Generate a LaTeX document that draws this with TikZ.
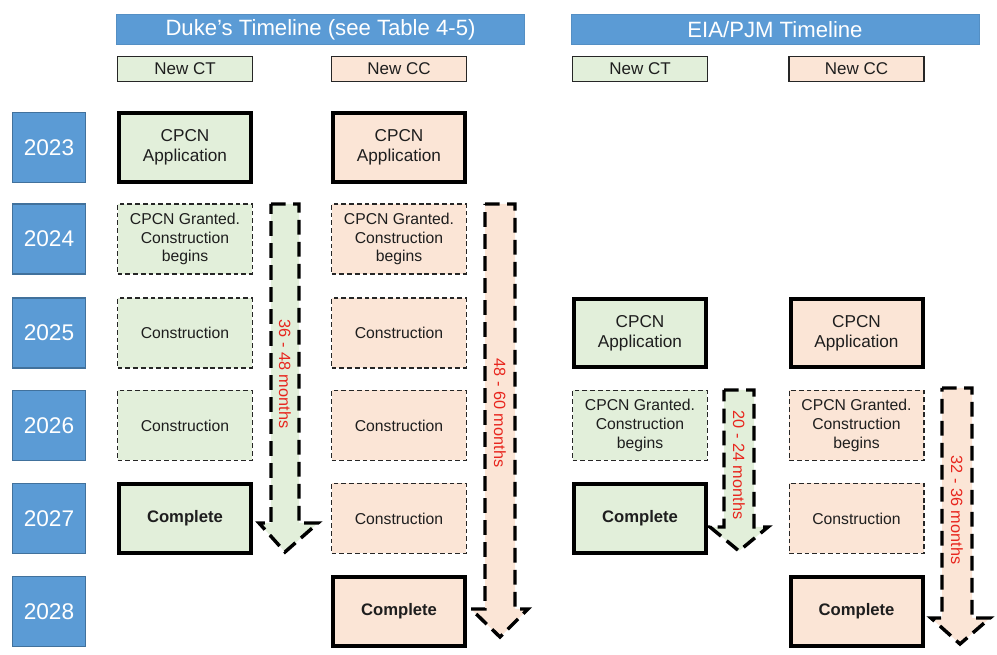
\documentclass[tikz,border=0pt]{standalone}
\usepackage{fontspec}
\setmainfont{Liberation Sans}
\definecolor{hdrblue}{HTML}{5B9BD5}
\definecolor{yearborder}{HTML}{41719C}
\definecolor{ctgreen}{HTML}{E2EFDA}
\definecolor{ccpeach}{HTML}{FBE5D6}
\definecolor{monthred}{HTML}{E8261E}
\definecolor{inktext}{HTML}{1E1E1E}
\begin{document}
\begin{tikzpicture}[x=0.75pt,y=-0.75pt,
  hdr/.style={draw=hdrblue!92!black, line width=0.75pt, fill=hdrblue, text=white,
    font=\fontsize{16.6}{18}\selectfont, minimum width=306pt, minimum height=22.5pt, inner sep=0pt},
  subhdr/.style={draw=black!85, line width=1.1pt, minimum width=101pt, minimum height=19pt,
    inner sep=0pt, text=inktext, font=\fontsize{12.75}{15}\selectfont},
  yearbox/.style={draw=yearborder, line width=0.9pt, fill=hdrblue, text=white,
    minimum width=55pt, minimum height=52.5pt, inner sep=0pt, font=\fontsize{17}{20}\selectfont},
  solidbox/.style={draw=black, line width=3pt, minimum width=99pt, minimum height=51.5pt,
    inner sep=0pt, align=center, text=inktext, font=\fontsize{12.9}{15}\selectfont},
  donebox/.style={solidbox, font=\fontsize{12.5}{15}\bfseries},
  dashbox/.style={draw=black!85, line width=1pt, dash pattern=on 3.6pt off 2.2pt,
    minimum width=101pt, minimum height=52.5pt, inner sep=0pt, align=center, text=inktext,
    font=\fontsize{11.8}{14.2}\selectfont},
  ctf/.style={fill=ctgreen}, ccf/.style={fill=ccpeach},
  arrowshape/.style={draw=black, line width=2.6pt, dash pattern=on 11pt off 5.5pt, line join=miter},
  months/.style={text=monthred, rotate=-90, inner sep=0pt, font=\fontsize{12.2}{14}\selectfont}]
\useasboundingbox (0,0) rectangle (997,655);
\def\rA{147.5}\def\rB{239}\def\rC{333}\def\rD{425.5}\def\rE{518.5}\def\rF{611.5}
% headers
\node[hdr] (hduke) at (320.5,29.5) {Duke’s Timeline (see Table 4-5)};
\node[hdr] (heia) at (775,29.5) {EIA/PJM Timeline};
\node[subhdr,ctf] (dct) at (185,69) {New CT};
\node[subhdr,ccf] (dcc) at (399,69) {New CC};
\node[subhdr,ctf] (ect) at (640,69) {New CT};
\node[subhdr,ccf] (ecc) at (856.5,69) {New CC};
% years
\node[yearbox] (y23) at (49,\rA) {2023};
\node[yearbox] (y24) at (49,\rB) {2024};
\node[yearbox] (y25) at (49,\rC) {2025};
\node[yearbox] (y26) at (49,\rD) {2026};
\node[yearbox] (y27) at (49,\rE) {2027};
\node[yearbox] (y28) at (49,\rF) {2028};
% arrows
\draw[arrowshape,fill=ctgreen] (271,204) -- (299,204) -- (299,523) -- (318,523) -- (285,552) -- (259,523) -- (271,523) -- cycle;
\draw[arrowshape,fill=ccpeach] (485,204) -- (515,204) -- (515,609) -- (528,609) -- (500,637) -- (471,609) -- (485,609) -- cycle;
\draw[arrowshape,fill=ctgreen] (724,390) -- (754,390) -- (754,527) -- (768,527) -- (739,551) -- (710,527) -- (724,527) -- cycle;
\draw[arrowshape,fill=ccpeach] (942,388) -- (972,388) -- (972,618) -- (990,618) -- (960,644) -- (931,618) -- (942,618) -- cycle;
\node[months] (m1) at (285,374) {36 - 48 months};
\node[months] (m2) at (500,413) {48 - 60 months};
\node[months] (m3) at (739,465) {20 - 24 months};
\node[months] (m4) at (957,510) {32 - 36 months};
% Duke CT
\node[solidbox,ctf] (dct1) at (185,\rA) {CPCN\\Application};
\node[dashbox,ctf] (dct2) at (185,\rB) {CPCN Granted.\\Construction\\begins};
\node[dashbox,ctf] (dct3) at (185,\rC) {Construction};
\node[dashbox,ctf] (dct4) at (185,\rD) {Construction};
\node[donebox,ctf] (dct5) at (185,\rE) {Complete};
% Duke CC
\node[solidbox,ccf] (dcc1) at (399,\rA) {CPCN\\Application};
\node[dashbox,ccf] (dcc2) at (399,\rB) {CPCN Granted.\\Construction\\begins};
\node[dashbox,ccf] (dcc3) at (399,\rC) {Construction};
\node[dashbox,ccf] (dcc4) at (399,\rD) {Construction};
\node[dashbox,ccf] (dcc5) at (399,\rE) {Construction};
\node[donebox,ccf] (dcc6) at (399,\rF) {Complete};
% EIA CT
\node[solidbox,ctf] (ect1) at (640,\rC) {CPCN\\Application};
\node[dashbox,ctf] (ect2) at (640,\rD) {CPCN Granted.\\Construction\\begins};
\node[donebox,ctf] (ect3) at (640,\rE) {Complete};
% EIA CC
\node[solidbox,ccf] (ecc1) at (856.5,\rC) {CPCN\\Application};
\node[dashbox,ccf] (ecc2) at (856.5,\rD) {CPCN Granted.\\Construction\\begins};
\node[dashbox,ccf] (ecc3) at (856.5,\rE) {Construction};
\node[donebox,ccf] (ecc4) at (856.5,\rF) {Complete};
\end{tikzpicture}
\end{document}
